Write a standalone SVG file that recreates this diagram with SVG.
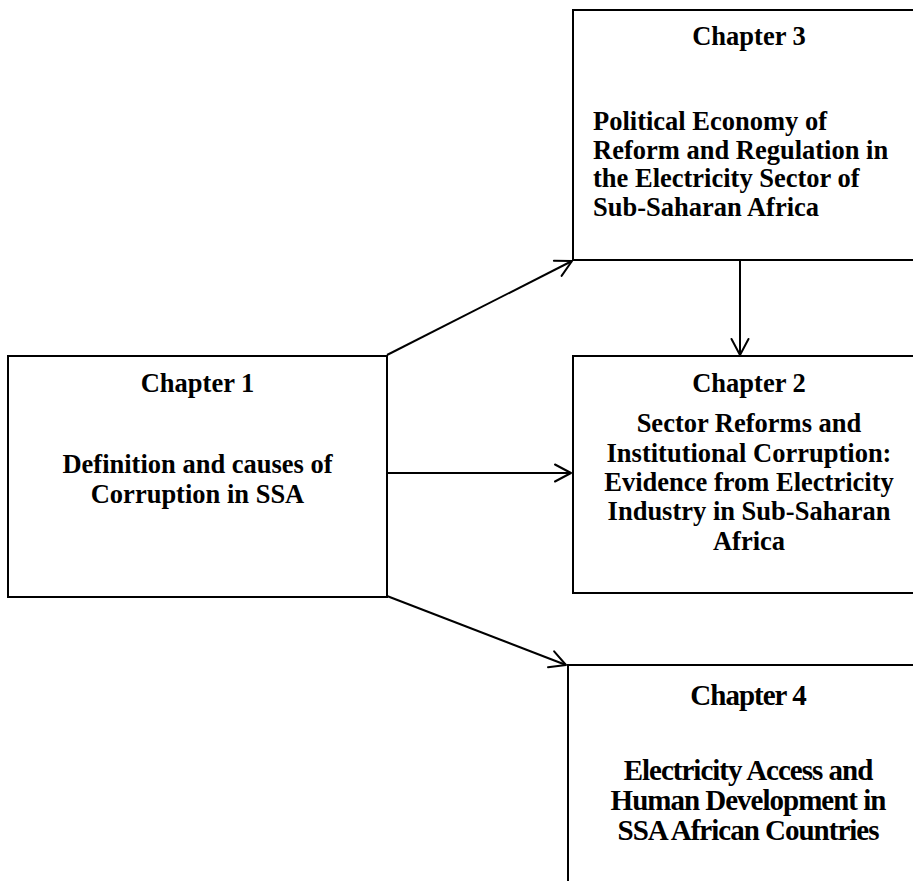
<svg xmlns="http://www.w3.org/2000/svg" width="913" height="881" viewBox="0 0 913 881">
<style>
.box{fill:#fff;stroke:#000;stroke-width:2}
.t{font-family:"Liberation Serif","Times New Roman",serif;font-weight:bold;font-size:26.5px;fill:#000}
.c{text-anchor:middle}
.n{font-size:29px;letter-spacing:-1px}
.conn{stroke:#000;stroke-width:2;fill:none}
</style>
<defs>
<marker id="arr" markerUnits="userSpaceOnUse" markerWidth="24" markerHeight="24" viewBox="-20 -12 24 24" refX="0" refY="0" orient="auto" overflow="visible">
<path d="M-16,-8.5 L0,0 L-16,8.5" fill="none" stroke="#000" stroke-width="2" stroke-linecap="round" stroke-linejoin="round"/>
</marker>
</defs>
<g id="ch3">
<rect class="box" x="573" y="10" width="360" height="250"/>
<text class="t c" x="749" y="45">Chapter 3</text>
<text class="t" x="593" y="130">Political Economy of</text>
<text class="t" x="593" y="158.5">Reform and Regulation in</text>
<text class="t" x="593" y="187">the Electricity Sector of</text>
<text class="t" x="593" y="216">Sub-Saharan Africa</text>
</g>
<g id="ch1">
<rect class="box" x="8" y="356" width="379" height="241"/>
<text class="t c" x="197.5" y="392">Chapter 1</text>
<text class="t c" x="197.5" y="473">Definition and causes of</text>
<text class="t c" x="197.5" y="503">Corruption in SSA</text>
</g>
<g id="ch2">
<rect class="box" x="573" y="356" width="360" height="237"/>
<text class="t c" x="749" y="392">Chapter 2</text>
<text class="t c" x="749" y="432">Sector Reforms and</text>
<text class="t c" x="749" y="462">Institutional Corruption:</text>
<text class="t c" x="749" y="491">Evidence from Electricity</text>
<text class="t c" x="749" y="520">Industry in Sub-Saharan</text>
<text class="t c" x="749" y="550">Africa</text>
</g>
<g id="ch4">
<rect class="box" x="568" y="665" width="365" height="240"/>
<text class="t c n" x="748" y="705">Chapter 4</text>
<text class="t c n" x="748" y="780">Electricity Access and</text>
<text class="t c n" x="748" y="810">Human Development in</text>
<text class="t c n" x="748" y="840">SSA African Countries</text>
</g>
<g id="connectors">
<line class="conn" x1="387" y1="355" x2="572" y2="261" marker-end="url(#arr)"/>
<line class="conn" x1="387" y1="473" x2="571" y2="473" marker-end="url(#arr)"/>
<line class="conn" x1="387" y1="596" x2="566" y2="665" marker-end="url(#arr)"/>
<line class="conn" x1="740" y1="260" x2="740" y2="355" marker-end="url(#arr)"/>
</g>
</svg>
